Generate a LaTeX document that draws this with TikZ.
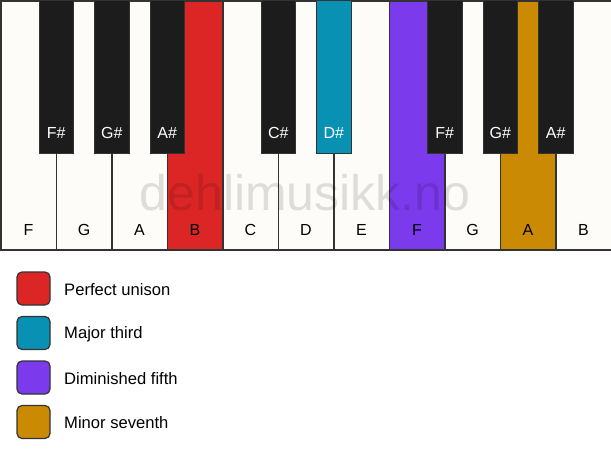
\documentclass[tikz,border=0pt]{standalone}
\usepackage{fontspec}
\setmainfont{Liberation Sans}
\definecolor{keywhite}{HTML}{FDFCF9}
\definecolor{keyblack}{HTML}{1C1C1C}
\definecolor{keyedge}{HTML}{333333}
\definecolor{cred}{HTML}{DC2626}
\definecolor{cteal}{HTML}{0891B2}
\definecolor{cpurple}{HTML}{7C3AED}
\definecolor{cgold}{HTML}{CA8A04}
\tikzset{
  whitekey/.style={draw=keyedge, line width=1.5pt, fill=keywhite, minimum width=55.5pt, minimum height=249pt, inner sep=0pt, outer sep=0pt},
  blackkey/.style={draw=keyedge, line width=1pt, fill=keyblack, minimum width=34.5pt, minimum height=153pt, inner sep=0pt, outer sep=0pt},
  wlabel/.style={font=\fontsize{16}{19}\selectfont, text=black},
  blabel/.style={font=\fontsize{16}{19}\selectfont, text=white},
  swatch/.style={draw=keyedge, line width=1.2pt, rounded corners=5pt, minimum width=33pt, minimum height=33pt, inner sep=0pt},
  legtext/.style={font=\fontsize{16.6}{20}\selectfont, anchor=west, inner sep=0pt, text=black}
}
\begin{document}
\begin{tikzpicture}[x=1pt,y=-1pt]
\useasboundingbox (0,0) rectangle (611,461);
\fill[white] (0,0) rectangle (611,461);
% white keys
\foreach \i/\n/\c in {0/F/keywhite,1/G/keywhite,2/A/keywhite,3/B/cred,4/C/keywhite,5/D/keywhite,6/E/keywhite,7/F/cpurple,8/G/keywhite,9/A/cgold,10/B/keywhite}{
  \node[whitekey, fill=\c, anchor=north west] (w\i) at ({0.75+\i*55.5},0.75) {};
  \node[wlabel] (wl\i) at ({0.75+\i*55.5+27.75},230) {\n};
}
% watermark
\node[font=\fontsize{50}{60}\selectfont, text=black, text opacity=0.12] (wm) at (305,193) {dehlimusikk.no};
% black keys
\foreach \b/\n/\c in {1/F\#/keyblack,2/G\#/keyblack,3/A\#/keyblack,5/C\#/keyblack,6/D\#/cteal,8/F\#/keyblack,9/G\#/keyblack,10/A\#/keyblack}{
  \node[blackkey, fill=\c, anchor=north] (b\b) at ({0.75+\b*55.5},0) {};
  \node[blabel] (bl\b) at ({0.75+\b*55.5},133) {\n};
}
% legend
\node[swatch, fill=cred] (s1) at (33.5,288.5) {};
\node[legtext] (t1) at (64,289.5) {Perfect unison};
\node[swatch, fill=cteal] (s2) at (33.5,333) {};
\node[legtext] (t2) at (64,334) {Major third};
\node[swatch, fill=cpurple] (s3) at (33.5,377.5) {};
\node[legtext] (t3) at (64,378.5) {Diminished fifth};
\node[swatch, fill=cgold] (s4) at (33.5,422) {};
\node[legtext] (t4) at (64,423) {Minor seventh};
\end{tikzpicture}
\end{document}
